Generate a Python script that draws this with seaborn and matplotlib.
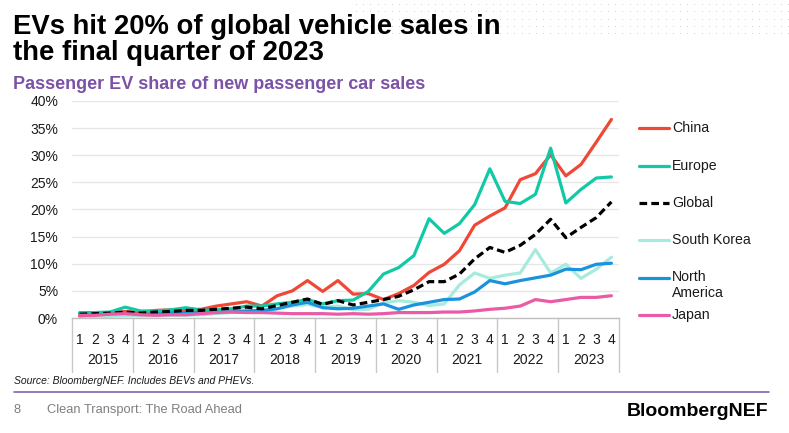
import numpy as np
import pandas as pd
import matplotlib
matplotlib.use("Agg")
import matplotlib.pyplot as plt
import matplotlib.transforms as mtransforms
from matplotlib.lines import Line2D
import seaborn as sns

# quarterly EV share of new passenger car sales (%), 2015 Q1 .. 2023 Q4
years = ["2015", "2016", "2017", "2018", "2019", "2020", "2021", "2022", "2023"]
quarter_labels = ["1", "2", "3", "4"] * len(years)

china = [0.4, 0.6, 0.8, 1.2, 1.0, 1.4, 1.5, 1.6, 1.6, 2.2, 2.6, 3.0,
         2.2, 4.1, 5.0, 6.9, 4.9, 6.9, 4.4, 4.5, 3.4, 4.5, 6.0, 8.4,
         9.9, 12.4, 17.1, 18.8, 20.3, 25.5, 26.6, 30.1, 26.2, 28.3, 32.4, 36.6]
europe = [1.0, 1.0, 1.1, 2.0, 1.3, 1.3, 1.5, 1.9, 1.4, 1.5, 1.7, 2.2,
          2.2, 2.6, 2.9, 3.4, 2.6, 3.2, 3.3, 4.9, 8.1, 9.3, 11.5, 18.3,
          15.6, 17.4, 20.9, 27.5, 21.5, 21.1, 22.8, 31.3, 21.2, 23.7, 25.8, 26.0]
global_share = [0.7, 0.8, 0.9, 1.1, 0.9, 1.1, 1.2, 1.4, 1.4, 1.6, 1.8, 2.0,
                1.7, 2.3, 2.9, 3.5, 2.5, 3.2, 2.4, 2.9, 3.4, 4.0, 5.2, 6.7,
                6.7, 8.1, 10.9, 13.0, 12.1, 13.4, 15.4, 18.2, 14.8, 16.7, 18.5, 21.4]
south_korea = [0.3, 0.3, 0.3, 0.4, 0.4, 0.4, 0.5, 0.5, 0.6, 0.8, 1.0, 1.1,
               1.2, 1.8, 2.2, 2.5, 2.0, 2.2, 1.5, 1.6, 2.8, 3.2, 2.9, 2.3,
               2.6, 6.1, 8.3, 7.3, 7.9, 8.3, 12.6, 8.3, 9.9, 7.3, 9.0, 11.2]
north_america = [0.7, 0.8, 0.8, 0.9, 0.9, 1.0, 1.0, 1.1, 1.1, 1.2, 1.2, 1.3,
                 1.4, 1.7, 2.4, 2.9, 1.9, 1.7, 1.8, 2.2, 2.6, 1.6, 2.4, 2.9,
                 3.4, 3.5, 4.8, 6.9, 6.3, 6.9, 7.4, 7.9, 9.0, 8.9, 9.9, 10.1]
japan = [0.5, 0.5, 0.7, 0.8, 0.6, 0.5, 0.6, 0.6, 0.8, 1.0, 1.1, 1.0,
         1.0, 0.9, 0.8, 0.8, 0.8, 0.7, 0.8, 0.7, 0.8, 1.0, 1.0, 1.0,
         1.1, 1.1, 1.3, 1.6, 1.8, 2.2, 3.4, 3.0, 3.4, 3.8, 3.8, 4.1]

colors = {
    "China": "#EF4836",
    "Europe": "#12C9A6",
    "Global": "#000000",
    "South Korea": "#A6EBDD",
    "North America": "#1A93DC",
    "Japan": "#EA5AA6",
}
# drawing order, bottom to top
series = [
    ("South Korea", south_korea),
    ("North America", north_america),
    ("China", china),
    ("Europe", europe),
    ("Global", global_share),
    ("Japan", japan),
]
DASH = (0, (2.4, 1.3))

W, H = 789, 433
sns.set_theme(style="white")
plt.rcParams["font.family"] = ["Liberation Sans", "DejaVu Sans"]

fig = plt.figure(figsize=(W / 100, H / 100), dpi=100)
fig.patch.set_facecolor("white")


def fx(px):
    return px / W


def fy(py):
    return 1 - py / H


ax = fig.add_axes([fx(72), fy(318), fx(619) - fx(72), fy(101) - fy(318)])

pos = np.arange(len(quarter_labels))
for name, vals in series:
    df = pd.DataFrame({"q": pos, "share": vals})
    ls = DASH if name == "Global" else "-"
    sns.lineplot(data=df, x="q", y="share", ax=ax, color=colors[name], lw=2.3,
                 linestyle=ls, solid_capstyle="round", dash_capstyle="butt",
                 legend=False)

ax.set_xlim(-0.5, len(quarter_labels) - 0.5)
ax.set_ylim(0, 40)
ax.set_yticks(np.arange(0, 41, 5))
ax.set_yticklabels([f"{v}%" for v in range(0, 41, 5)], fontsize=10, color="#1a1a1a")
ax.set_xticks(pos)
ax.set_xticklabels(quarter_labels, fontsize=10, color="#1a1a1a")
ax.tick_params(axis="x", length=0, pad=11)
ax.tick_params(axis="y", length=0, pad=10)
ax.set_xlabel("")
ax.set_ylabel("")
ax.grid(axis="y", color="#E6E6E6", lw=0.9)
ax.grid(axis="x", visible=False)
for side in ["top", "right", "left"]:
    ax.spines[side].set_visible(False)
ax.spines["bottom"].set_color("#BFBFBF")
ax.spines["bottom"].set_linewidth(1.0)

# year boxes below the category axis
trans = mtransforms.blended_transform_factory(ax.transData, ax.transAxes)
axis_h = 318 - 101
for k, yr in enumerate(years):
    ax.text(4 * k + 1.5, -(360 - 318) / axis_h, yr, transform=trans, ha="center",
            va="center", fontsize=10, color="#1a1a1a")
for k in range(len(years) + 1):
    ax.plot([4 * k - 0.5, 4 * k - 0.5], [0, -(372 - 318) / axis_h], transform=trans,
            color="#C8C8C8", lw=1.0, clip_on=False)

# legend on the right (label, key y in px)
legend_rows = [("China", 128), ("Europe", 166), ("Global", 203),
               ("South Korea", 240), ("North America", 278), ("Japan", 315)]
for name, ypx in legend_rows:
    ls = DASH if name == "Global" else "-"
    fig.add_artist(Line2D([fx(639), fx(669)], [fy(ypx), fy(ypx)], transform=fig.transFigure,
                          color=colors[name], lw=2.3, linestyle=ls))
    if name == "North America":
        fig.text(fx(672), fy(ypx - 8), "North\nAmerica", ha="left", va="top",
                 fontsize=10.2, color="#1a1a1a", linespacing=1.15)
    else:
        fig.text(fx(672), fy(ypx), name, ha="left", va="center",
                 fontsize=10.2, color="#1a1a1a")

# titles
fig.text(fx(13), fy(34), "EVs hit 20% of global vehicle sales in", fontsize=19.8,
         fontweight="bold", color="black", ha="left", va="baseline")
fig.text(fx(13), fy(60), "the final quarter of 2023", fontsize=19.8,
         fontweight="bold", color="black", ha="left", va="baseline")
fig.text(fx(13), fy(89), "Passenger EV share of new passenger car sales", fontsize=13,
         fontweight="bold", color="#7B52A6", ha="left", va="baseline")

# dotted decoration top right
dx, dy = np.meshgrid(np.arange(356, 789, 7.2), np.arange(4, 34, 7.3))
deco = fig.add_axes([0, 0, 1, 1], zorder=-1)
deco.set_xlim(0, W)
deco.set_ylim(H, 0)
deco.axis("off")
deco.scatter(dx.ravel(), dy.ravel(), s=0.6, color="#CFCFCF", linewidths=0)

# footer
fig.text(fx(14), fy(381), "Source: BloombergNEF. Includes BEVs and PHEVs.", fontsize=7.5,
         style="italic", color="#1a1a1a", ha="left", va="center")
fig.add_artist(Line2D([fx(14), fx(769)], [fy(392), fy(392)], transform=fig.transFigure,
                      color="#7B52A6", lw=1.1))
fig.text(fx(14), fy(410), "8", fontsize=9.3, color="#7F7F7F", ha="left", va="center")
fig.text(fx(47), fy(410), "Clean Transport: The Road Ahead", fontsize=9.3, color="#7F7F7F",
         ha="left", va="center")
fig.text(fx(768), fy(411), "BloombergNEF", fontsize=14, fontweight="bold", color="black",
         ha="right", va="center")

fig.savefig("out.png", dpi=100, facecolor="white")
